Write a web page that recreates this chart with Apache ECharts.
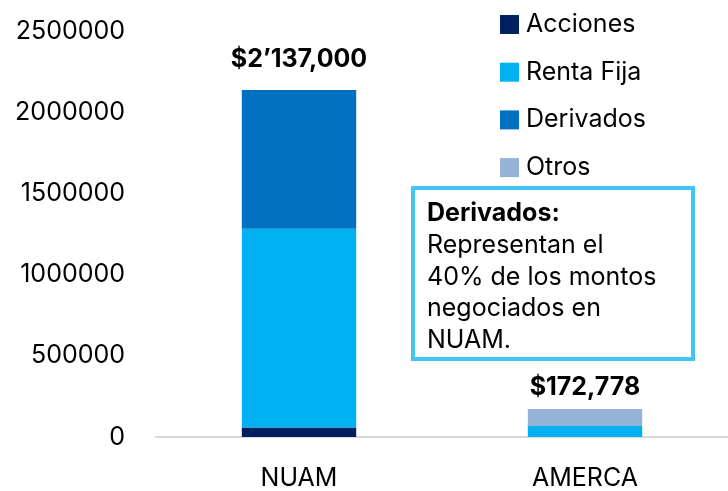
<!DOCTYPE html>
<html><head><meta charset="utf-8">
<script src="https://cdn.jsdelivr.net/npm/echarts@6/dist/echarts.min.js"></script>
<style>html,body{margin:0;padding:0;background:#fff}#c{width:728px;height:491px}</style>
</head><body><div id="c"></div>
<script>
const categories = ['NUAM', 'AMERCA'];
const acciones = [58000, 0];
const rentaFija = [1224000, 67000];
const derivados = [855000, 0];
const otros = [0, 105778];
const totalLabels = ["$2\u2019137,000", "$172,778"];
const yTicks = [0, 500000, 1000000, 1500000, 2000000, 2500000];
const noteTitle = 'Derivados:';
const noteLines = ['Representan el', '40% de los montos', 'negociados en', 'NUAM.'];

const FONT = 'Inter';
const FS = 25;
const chart = echarts.init(document.getElementById('c'), null, {renderer: 'canvas'});
const mk = (name, data, color) => ({
  name, type: 'bar', stack: 'total', data, barWidth: '40%',
  itemStyle: {color}, emphasis: {disabled: true}
});
const otrosSeries = mk('Otros', otros.map((v, i) => ({
  value: v,
  label: {show: true, position: 'top', distance: i === 0 ? 18 : 9, formatter: totalLabels[i]}
})), '#95B3D7');
otrosSeries.label = {fontFamily: FONT, fontWeight: 'bold', fontSize: FS, color: '#000'};

chart.setOption({
  animation: false,
  textStyle: {fontFamily: FONT},
  grid: {left: 156, right: -3, top: 31, bottom: 53.5, containLabel: false},
  legend: {
    orient: 'vertical', left: 495, top: 7, itemGap: 22.7,
    icon: 'rect', itemWidth: 19, itemHeight: 19,
    textStyle: {fontFamily: FONT, fontSize: FS, color: '#000', padding: [0, 0, 0, 2]},
    data: ['Acciones', 'Renta Fija', 'Derivados', 'Otros']
  },
  xAxis: {
    type: 'category', data: categories,
    axisLine: {lineStyle: {color: '#d9d9d9', width: 2}},
    axisTick: {show: false},
    axisLabel: {fontFamily: FONT, fontSize: FS, color: '#000', margin: 29}
  },
  yAxis: {
    type: 'value', min: yTicks[0], max: yTicks[yTicks.length - 1], interval: yTicks[1] - yTicks[0],
    splitLine: {show: false}, axisLine: {show: false}, axisTick: {show: false},
    axisLabel: {fontFamily: FONT, fontSize: FS, color: '#000', margin: 31, formatter: v => String(v)}
  },
  series: [
    mk('Acciones', acciones, '#002060'),
    mk('Renta Fija', rentaFija, '#00B0F0'),
    mk('Derivados', derivados, '#0070C0'),
    otrosSeries
  ],
  graphic: [
    {type: 'rect', shape: {x: 413, y: 188, width: 280, height: 171},
     style: {fill: '#fff', stroke: '#40C6F4', lineWidth: 4}, z: 100},
    {type: 'text', x: 427, y: 198, z: 101,
     style: {
       text: '{b|' + noteTitle + '}\n' + noteLines.join('\n'),
       rich: {b: {fontFamily: FONT, fontWeight: 'bold', fontSize: FS, lineHeight: 31.7, fill: '#000'}},
       fontFamily: FONT, fontSize: FS, lineHeight: 31.7, fill: '#000'
     }}
  ]
});
</script></body></html>
